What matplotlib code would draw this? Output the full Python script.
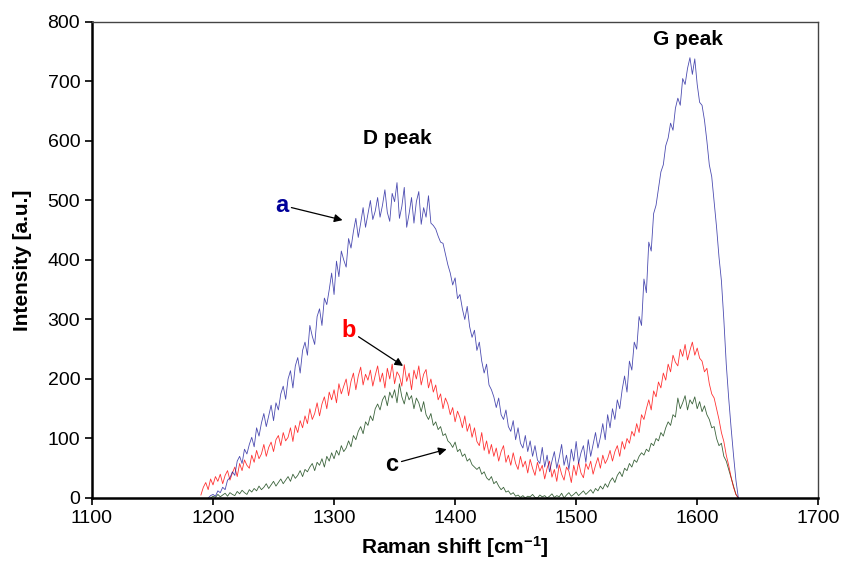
import numpy as np
import matplotlib.pyplot as plt

a_start = 1196
a_intensity = [
    0, 4, 6, 3, 12, 9, 18, 14, 30, 34,
    44, 38, 62, 70, 58, 82, 74, 90, 102, 86,
    118, 104, 126, 142, 120, 138, 156, 130, 160, 148,
    175, 188, 166, 200, 214, 185, 222, 236, 210, 248,
    262, 240, 290, 272, 258, 305, 318, 290, 336, 325,
    350, 378, 342, 398, 372, 415, 400, 388, 436, 420,
    448, 470, 438, 462, 488, 455, 478, 500, 468, 482,
    505, 472, 492, 518, 480, 465, 512, 498, 530, 470,
    490, 522, 455, 478, 505, 462, 498, 515, 460, 488,
    472, 508, 462, 458, 452, 440, 430, 428, 410, 392,
    378, 358, 370, 335, 342, 318, 300, 322, 288, 270,
    282, 248, 262, 230, 210, 225, 190, 182, 170, 152,
    168, 140, 132, 148, 120, 112, 130, 98, 118, 92,
    84, 105, 78, 96, 70, 88, 64, 58, 85, 52,
    72, 44, 62, 78, 50, 68, 90, 55, 72, 48,
    82, 62, 95, 58, 76, 88, 60, 98, 70, 90,
    110, 84, 102, 125, 98, 140, 118, 150, 132, 165,
    150, 182, 205, 178, 230, 215, 262, 250, 305, 290,
    368, 345, 430, 415, 478, 492, 520, 548, 560, 592,
    605, 630, 618, 655, 672, 660, 705, 695, 722, 740,
    712, 738, 695, 665, 660, 635, 600, 560, 540, 498,
    455, 405, 365, 300, 225, 168, 118, 72, 30, 0,
]

b_start = 1190
b_intensity = [
    5, 18, 26, 14, 32, 22, 36, 28, 40, 24,
    38, 46, 30, 42, 52, 36, 58, 46, 64, 55,
    50, 72, 60, 80, 66, 74, 90, 70, 85, 94,
    78, 98, 105, 88, 110, 96, 102, 118, 95, 122,
    110, 130, 118, 138, 125, 150, 132, 142, 160, 138,
    158, 170, 150, 178, 165, 182, 160, 192, 175, 188,
    200, 172, 196, 210, 182, 205, 220, 190, 208, 198,
    215, 188, 206, 222, 195, 210, 185, 218, 200, 225,
    192, 212, 205, 188, 224, 196, 210, 182, 215, 200,
    222, 190, 208, 216, 185, 200, 178, 190, 165, 175,
    150, 168, 158, 140, 152, 128, 146, 135, 118, 138,
    112, 125, 102, 118, 95, 88, 110, 80, 96, 74,
    90, 70, 84, 62, 78, 88, 60, 72, 55, 76,
    58, 48, 70, 52, 62, 42, 65, 50, 38, 60,
    45, 55, 32, 50, 62, 35, 48, 28, 56, 40,
    30, 52, 45, 26, 55, 38, 60, 42, 34, 58,
    48, 62, 40, 55, 68, 50, 72, 58, 66, 80,
    62, 78, 88, 70, 95, 82, 100, 92, 112, 104,
    125, 110, 140, 132, 150, 165, 148, 180, 170, 195,
    185, 210, 198, 225, 212, 240, 228, 222, 250, 238,
    258, 232, 248, 262, 240, 252, 235, 230, 212, 218,
    192, 175, 168, 150, 132, 110, 95, 72, 55, 35,
    18, 6, 0,
]

c_start = 1198
c_intensity = [
    0, 3, 1, 6, 2, 5, 8, 3, 9, 6,
    4, 11, 7, 13, 9, 6, 14, 10, 16, 12,
    20, 14, 18, 24, 16, 22, 28, 20, 26, 32,
    24, 30, 36, 28, 40, 33, 38, 46, 36, 48,
    44, 52, 58, 46, 60, 55, 66, 52, 70, 62,
    76, 66, 80, 72, 88, 78, 84, 96, 86, 105,
    98, 112, 120, 108, 128, 122, 138, 130, 150, 158,
    148, 165, 172, 155, 178, 168, 182, 160, 192, 170,
    158, 178, 165, 172, 150, 168, 160, 145, 162, 140,
    132, 142, 122, 128, 115, 120, 105, 108, 96, 92,
    85, 94, 78, 82, 70, 74, 62, 66, 56, 52,
    48, 52, 40, 44, 34, 30, 36, 24, 28, 20,
    14, 18, 10, 12, 6, 9, 3, 5, 1, 4,
    0, 3, 2, 6, 1, 0, 5, 2, 4, 0,
    3, 7, 1, 4, 2, 8, 0, 5, 9, 3,
    6, 10, 4, 8, 12, 6, 10, 14, 8, 16,
    12, 20, 15, 24, 18, 28, 34, 26, 38, 44,
    36, 50, 46, 58, 52, 64, 60, 70, 76, 72,
    82, 78, 92, 88, 100, 96, 110, 104, 118, 128,
    122, 140, 136, 168, 150, 160, 172, 148, 165, 158,
    170, 150, 162, 145, 155, 140, 132, 118, 120, 100,
    88, 92, 70, 62, 48, 34, 20, 6, 0,
]

x_ticks = [1100, 1200, 1300, 1400, 1500, 1600, 1700]
y_ticks = [0, 100, 200, 300, 400, 500, 600, 700, 800]

plt.rcParams["font.family"] = ["Liberation Sans", "DejaVu Sans"]
plt.rcParams["mathtext.fontset"] = "custom"
plt.rcParams["mathtext.rm"] = "Liberation Sans:bold"
plt.rcParams["mathtext.it"] = "Liberation Sans:bold"
plt.rcParams["mathtext.bf"] = "Liberation Sans:bold"

fig = plt.figure(figsize=(8.46, 5.61), dpi=100)
ax = fig.add_axes([0.1087, 0.1123, 0.8585, 0.8485])

x_a = np.arange(a_start, a_start + 2 * len(a_intensity), 2)
x_b = np.arange(b_start, b_start + 2 * len(b_intensity), 2)
x_c = np.arange(c_start, c_start + 2 * len(c_intensity), 2)

ax.plot(x_c, c_intensity, color="#0b3d0b", linewidth=0.6, alpha=0.8)
ax.plot(x_b, b_intensity, color="#ff0000", linewidth=0.6, alpha=0.8)
ax.plot(x_a, a_intensity, color="#000090", linewidth=0.6, alpha=0.7)

ax.set_xlim(1100, 1700)
ax.set_ylim(0, 800)
ax.set_xticks(x_ticks)
ax.set_yticks(y_ticks)
ax.tick_params(direction="out", length=5, width=1.2, labelsize=14,
               top=False, right=False)

for side in ["left", "bottom"]:
    ax.spines[side].set_linewidth(1.8)
    ax.spines[side].set_color("black")
for side in ["top", "right"]:
    ax.spines[side].set_linewidth(1.0)
    ax.spines[side].set_color("#444444")

ax.set_ylabel("Intensity [a.u.]", fontsize=15, fontweight="bold")
ax.yaxis.set_label_coords(-0.096, 0.5)
ax.yaxis.label.set_va("center")
ax.set_xlabel(r"Raman shift [cm$^{-1}$]", fontsize=15, fontweight="bold")
ax.xaxis.set_label_coords(0.5, -0.131)
ax.xaxis.label.set_va("bottom")

ax.text(1352, 605, "D peak", fontsize=15, fontweight="bold",
        ha="center", va="center")
ax.text(1592, 770, "G peak", fontsize=15, fontweight="bold",
        ha="center", va="center")

arrow = dict(arrowstyle="-|>", color="black", linewidth=0.9,
             mutation_scale=12, shrinkA=0, shrinkB=0)
ax.annotate("a", xy=(1307, 467), xytext=(1257, 492), color="#000099",
            fontsize=17, fontweight="bold", ha="center", va="center",
            arrowprops=arrow)
ax.annotate("b", xy=(1357, 222), xytext=(1312, 282), color="#ff0000",
            fontsize=17, fontweight="bold", ha="center", va="center",
            arrowprops=arrow)
ax.annotate("c", xy=(1393, 82), xytext=(1348, 57), color="black",
            fontsize=17, fontweight="bold", ha="center", va="center",
            arrowprops=arrow)

fig.savefig("out.png", dpi=100)
